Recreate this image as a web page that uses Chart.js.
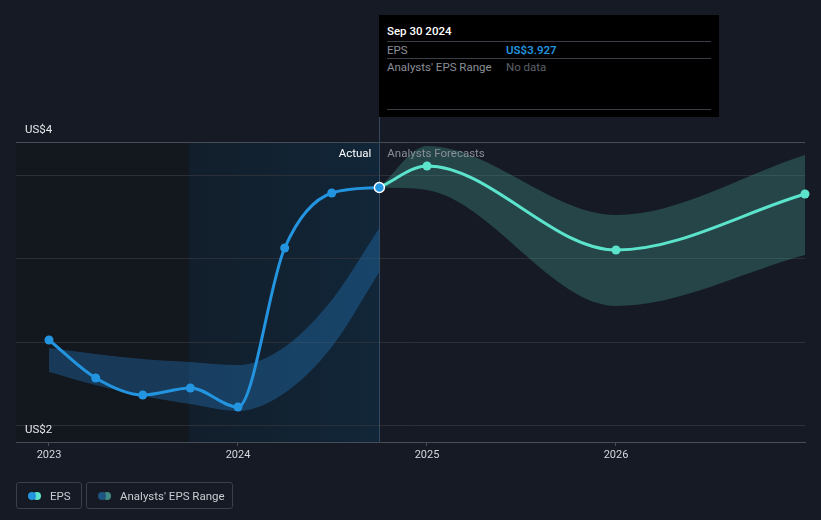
<!DOCTYPE html>
<html>
<head>
<meta charset="utf-8">
<script src="https://cdn.jsdelivr.net/npm/chart.js@4.4.1/dist/chart.umd.min.js"></script>
<style>
    html, body { margin: 0; padding: 0; background: #151a24; font-family: Roboto, "Open Sans", sans-serif; }
    #wrap { position: relative; width: 821px; height: 520px; overflow: hidden; }
    #myChart { position: absolute; left: 0; top: 0; }
    #info { position: absolute; left: 379px; top: 15px; width: 340px; height: 102px; background: #000; }
    #info .title { position: absolute; left: 8px; top: 9px; color: #fff; font-size: 11.5px; font-weight: 500; }
    #info .row { position: absolute; left: 8px; width: 324px; font-size: 11.5px; color: #8a8f98; border-top: 1px solid #3a3e46; }
    #info .row span { position: absolute; left: 119px; top: 1px; }
    #info .line { position: absolute; left: 8px; width: 324px; top: 94px; border-top: 1px solid #3a3e46; }
    .legend { position: absolute; top: 482px; height: 27px; border: 1px solid #3a3f49; border-radius: 3px; color: #c9ccd1; font-size: 11.5px; box-sizing: border-box; }
    .legend i { position: absolute; top: 9px; width: 8px; height: 8px; border-radius: 50%; }
    .legend b { position: absolute; top: 6px; font-weight: 400; }
</style>
</head>
<body>
<div id="wrap">
    <canvas id="myChart" width="821" height="520"></canvas>
    <div id="info">
        <div class="title">Sep 30 2024</div>
        <div class="row" style="top:26px;height:16px;padding-top:1px">EPS<span style="color:#2394df;font-weight:600">US$3.927</span></div>
        <div class="row" style="top:43px;height:16px;padding-top:1px">Analysts' EPS Range<span style="color:#5d626b">No data</span></div>
        <div class="line"></div>
    </div>
    <div class="legend" style="left:16px;width:66px">
        <i style="left:16px;background:#5ce3cc"></i><i style="left:11px;background:#2394df"></i>
        <b style="left:33px">EPS</b>
    </div>
    <div class="legend" style="left:86px;width:147px">
        <i style="left:16px;background:#3f8a82"></i><i style="left:11px;background:#1d5583"></i>
        <b style="left:33px">Analysts' EPS Range</b>
    </div>
</div>
<script>
// actual EPS, quarter ends (decimal years)
const actualX = [2023.0, 2023.247, 2023.496, 2023.748, 2024.0, 2024.247, 2024.496, 2024.748];
const actualEps = [3.012, 2.784, 2.682, 2.724, 2.61, 3.564, 3.894, 3.927];
// past analyst range
const pastRangeLow = [2.82, 2.742, 2.676, 2.628, 2.586, 2.694, 2.97, 3.42];
const pastRangeHigh = [2.964, 2.928, 2.898, 2.88, 2.862, 2.97, 3.252, 3.684];
// forecasts
const forecastX = [2024.748, 2025.0, 2026.0, 2027.0];
const forecastEps = [3.927, 4.056, 3.552, 3.888];
const forecastLow = [3.927, 3.912, 3.216, 3.522];
const forecastHigh = [3.927, 4.176, 3.762, 4.122];
const yearTicks = [2023, 2024, 2025, 2026];
const yMin = 2.4, yMax = 4.2;
const gridValues = [2.5, 3.0, 3.5, 4.0];
const todayX = 2024.748;
const pastShadeStart = 2023.74;

function pts(xs, ys) {
    return xs.map((x, i) => ({ x: x, y: ys[i] }));
}

const bgPlugin = {
    id: 'bg',
    beforeDraw(chart) {
        const { ctx, chartArea: a, scales: { x } } = chart;
        const x1 = x.getPixelForValue(pastShadeStart);
        const x2 = x.getPixelForValue(todayX);
        ctx.save();
        ctx.fillStyle = '#13171e';
        ctx.fillRect(a.left, a.top, x1 - a.left, a.bottom - a.top);
        const g = ctx.createLinearGradient(x1, 0, x2, 0);
        g.addColorStop(0, '#121e2b');
        g.addColorStop(1, '#112638');
        ctx.fillStyle = g;
        ctx.fillRect(x1, a.top, x2 - x1, a.bottom - a.top);
        ctx.restore();
    },
    beforeDatasetsDraw(chart) {
        const { ctx, chartArea: a, scales: { x } } = chart;
        const xp = Math.round(x.getPixelForValue(todayX)) + 0.5;
        ctx.save();
        ctx.strokeStyle = '#34495f';
        ctx.lineWidth = 1;
        ctx.beginPath();
        ctx.moveTo(xp, 117);
        ctx.lineTo(xp, a.bottom);
        ctx.stroke();
        ctx.restore();
    },
    afterDraw(chart) {
        const { ctx, chartArea: a, scales: { x } } = chart;
        const xp = x.getPixelForValue(todayX);
        ctx.save();
        ctx.font = '11.5px Roboto, sans-serif';
        ctx.textBaseline = 'middle';
        ctx.fillStyle = '#ffffff';
        ctx.textAlign = 'right';
        ctx.fillText('Actual', xp - 8, 154);
        ctx.fillStyle = '#8a8f98';
        ctx.textAlign = 'left';
        ctx.fillText('Analysts Forecasts', xp + 8, 154);
        ctx.fillStyle = '#e6e8eb';
        ctx.fillText('US$4', 25, 130);
        ctx.fillText('US$2', 25, 430);
        ctx.restore();
    }
};

const ctx = document.getElementById('myChart').getContext('2d');
const myChart = new Chart(ctx, {
    type: 'line',
    data: {
        datasets: [
            {
                label: 'pastLow', data: pts(actualX, pastRangeLow),
                borderWidth: 0, pointRadius: 0, fill: false, order: 2, cubicInterpolationMode: 'monotone'
            },
            {
                label: 'pastHigh', data: pts(actualX, pastRangeHigh),
                borderWidth: 0, pointRadius: 0, order: 2, cubicInterpolationMode: 'monotone',
                fill: { target: '-1' }, backgroundColor: 'rgba(35, 130, 205, 0.33)'
            },
            {
                label: 'fcLow', data: pts(forecastX, forecastLow),
                borderWidth: 0, pointRadius: 0, fill: false, order: 2, cubicInterpolationMode: 'monotone'
            },
            {
                label: 'fcHigh', data: pts(forecastX, forecastHigh),
                borderWidth: 0, pointRadius: 0, order: 2, cubicInterpolationMode: 'monotone',
                fill: { target: '-1' }, backgroundColor: 'rgba(80, 190, 170, 0.27)'
            },
            {
                label: 'Forecast', data: pts(forecastX, forecastEps),
                borderColor: '#5ce3cc', borderWidth: 3, order: 1, cubicInterpolationMode: 'monotone',
                pointRadius: [0, 4.5, 4.5, 4.5], pointBackgroundColor: '#5ce3cc', pointBorderWidth: 0, fill: false
            },
            {
                label: 'EPS', data: pts(actualX, actualEps),
                borderColor: '#2394df', borderWidth: 3, order: 0, cubicInterpolationMode: 'monotone',
                pointRadius: actualX.map((v, i) => i == actualX.length - 1 ? 5 : 4.5),
                pointBackgroundColor: '#2394df',
                pointBorderColor: actualX.map((v, i) => i == actualX.length - 1 ? '#ffffff' : '#2394df'),
                pointBorderWidth: actualX.map((v, i) => i == actualX.length - 1 ? 1.5 : 0),
                fill: false
            }
        ]
    },
    options: {
        responsive: false,
        animation: false,
        clip: false,
        layout: { padding: { left: 16, right: 16, top: 142, bottom: 50 } },
        plugins: { legend: { display: false }, tooltip: { enabled: false } },
        scales: {
            x: {
                type: 'linear',
                min: 2022.8254,
                max: 2027.0,
                afterBuildTicks: (scale) => { scale.ticks = yearTicks.map(v => ({ value: v })); },
                afterFit: (scale) => { scale.height = 28; },
                border: { color: '#474d57' },
                grid: { drawOnChartArea: false, drawTicks: true, tickLength: 4, color: '#474d57' },
                ticks: { color: '#d5d8dd', font: { family: 'Roboto', size: 11 }, padding: 3, maxRotation: 0, callback: v => String(v) }
            },
            y: {
                type: 'linear',
                min: yMin,
                max: yMax,
                afterBuildTicks: (scale) => {
                    scale.ticks = [yMin].concat(gridValues, [yMax]).map(v => ({ value: v }));
                },
                afterFit: (scale) => { scale.width = 0; },
                border: { display: false },
                grid: {
                    drawTicks: false,
                    color: (c) => (c.tick && (c.tick.value == yMax)) ? '#474d57' : '#2a2f38'
                },
                ticks: { display: false }
            }
        }
    },
    plugins: [bgPlugin]
});
</script>
</body>
</html>
